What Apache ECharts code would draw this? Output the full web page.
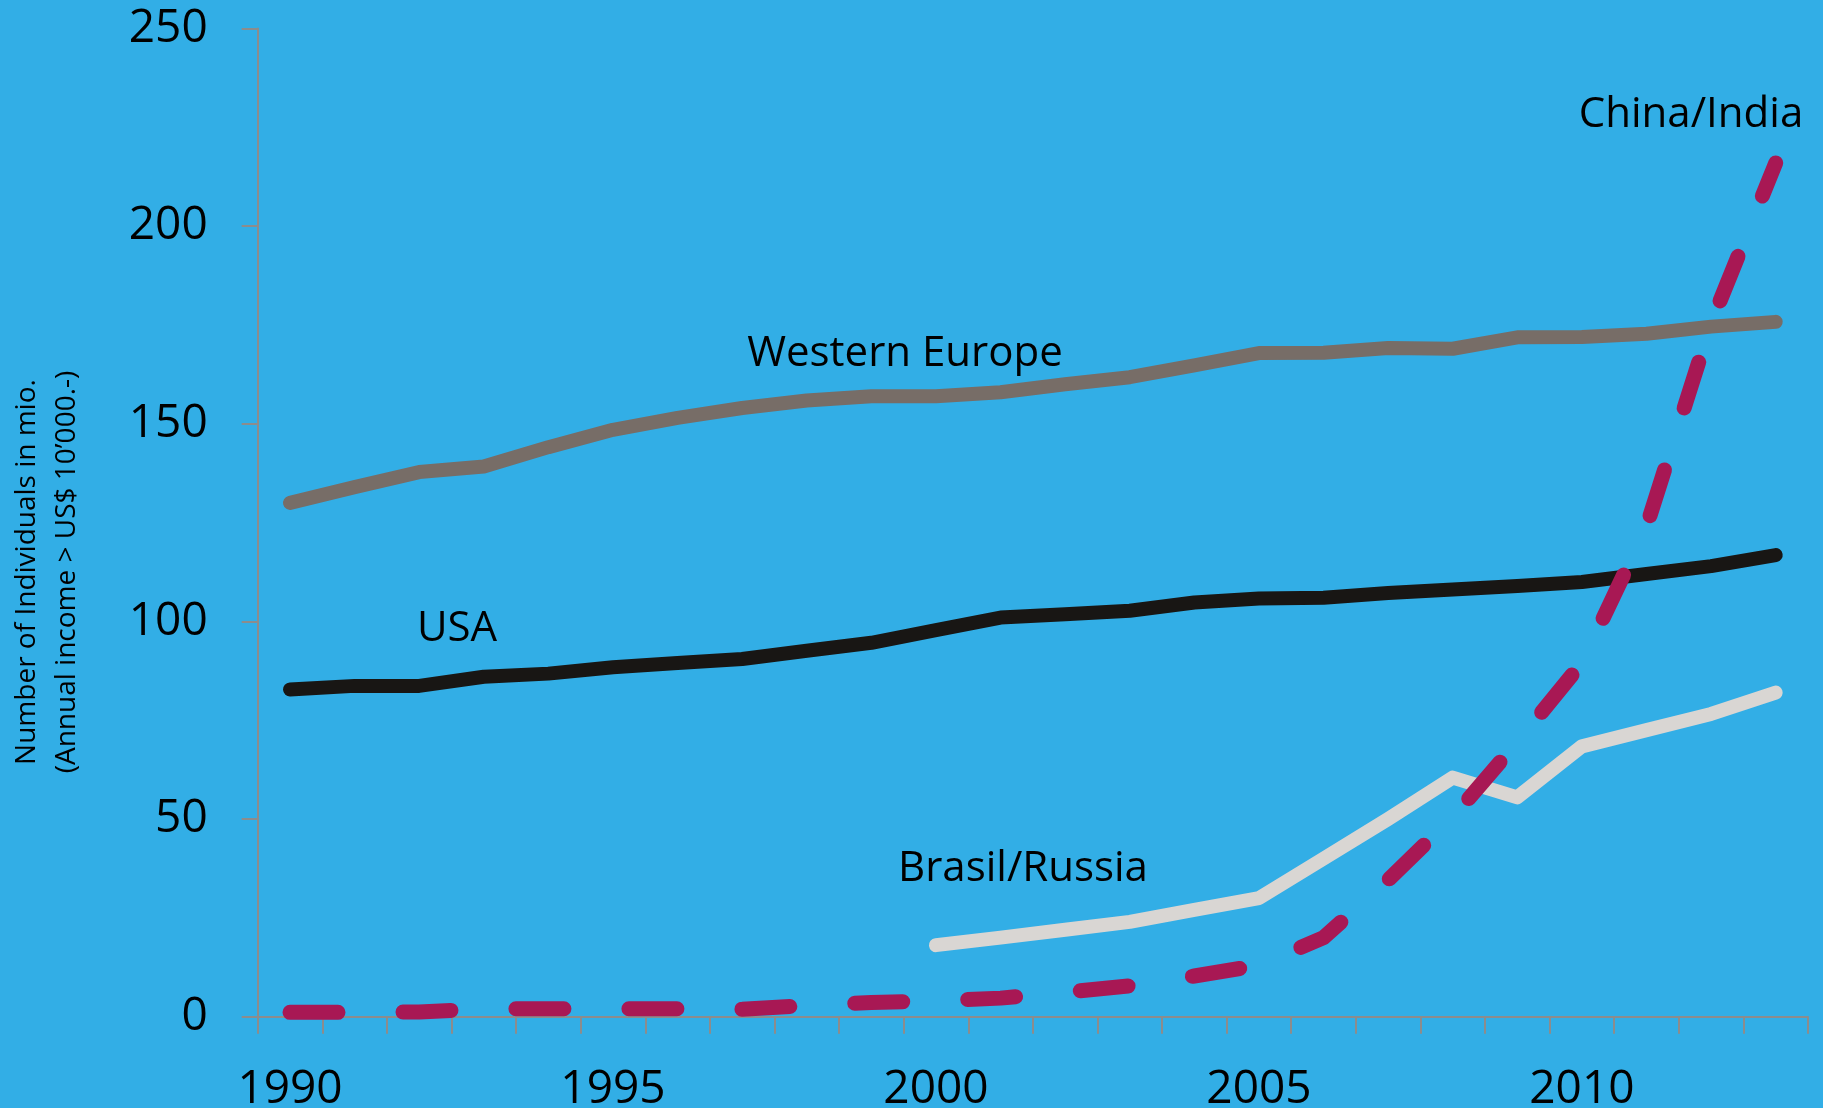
<!DOCTYPE html>
<html>
<head>
<meta charset="utf-8">
<script src="https://cdn.jsdelivr.net/npm/echarts@6/dist/echarts.min.js"></script>
<style>
html,body{margin:0;padding:0;background:#32AEE6;}
#chart{width:1823px;height:1108px;}
</style>
</head>
<body>
<div id="chart"></div>
<script>
var years = ['1990','1991','1992','1993','1994','1995','1996','1997','1998','1999','2000','2001','2002','2003','2004','2005','2006','2007','2008','2009','2010','2011','2012','2013'];
var westernEurope = [130,134,137.8,139.2,144.1,148.5,151.5,154,155.9,157,157,158,160,161.8,164.8,167.9,168,169.2,169,171.9,172,172.8,174.6,175.8];
var usa = [82.8,83.7,83.7,86,86.8,88.4,89.5,90.5,92.6,94.6,97.8,101,101.8,102.7,104.8,105.8,106,107.2,108.1,109,110,112,114,116.8];
var brasilRussia = [null,null,null,null,null,null,null,null,null,null,18.1,20,22,24,27,30,40,50,60.5,55.5,68.4,72.5,76.6,82];
var chinaIndia = [1.1,1.1,1.2,2,2,2,2,1.9,2.8,3.6,4,4.7,6.2,7.8,10.3,13,20,34.6,50.5,69.5,89.5,124,175.5,216];
var yTicks = {min:0, max:250, step:50};
var yAxisTitle = 'Number of Individuals in mio.\n(Annual income > US$ 10\u2019000.-)';
var seriesLabels = ['Western Europe','USA','Brasil/Russia','China/India'];

var chart = echarts.init(document.getElementById('chart'), null, {renderer:'canvas'});
var axisGrey = '#8c8c8c';
var font = 'Open Sans';
function lbl(text, x, y){
  return {type:'text', x:x, y:y, z:100, style:{text:text, fill:'#000', font:'42px "Open Sans"', textAlign:'center', textVerticalAlign:'middle'}};
}
chart.setOption({
  animation:false,
  backgroundColor:'#32AEE6',
  grid:{left:257.7, right:15, top:28.6, bottom:91.3, containLabel:false, outerBoundsMode:'none'},
  xAxis:{
    type:'category', data:years, boundaryGap:true,
    axisLine:{show:true, lineStyle:{color:axisGrey, width:2}},
    axisTick:{show:true, interval:0, length:17, lineStyle:{color:axisGrey, width:2}},
    axisLabel:{interval:4, margin:50, fontSize:46, fontFamily:font, color:'#000'},
    splitLine:{show:false}
  },
  yAxis:{
    type:'value', min:yTicks.min, max:yTicks.max, interval:yTicks.step,
    axisLine:{show:true, lineStyle:{color:axisGrey, width:2}},
    axisTick:{show:true, length:16, lineStyle:{color:axisGrey, width:2}},
    axisLabel:{margin:50, fontSize:46, fontFamily:font, color:'#000'},
    splitLine:{show:false}
  },
  series:[
    {name:seriesLabels[2], type:'line', data:brasilRussia, showSymbol:false, symbol:'none', connectNulls:false,
     lineStyle:{color:'#D9D6D3', width:14, cap:'round', join:'round'}},
    {name:seriesLabels[1], type:'line', data:usa, showSymbol:false, symbol:'none',
     lineStyle:{color:'#181614', width:14, cap:'round', join:'round'}},
    {name:seriesLabels[0], type:'line', data:westernEurope, showSymbol:false, symbol:'none',
     lineStyle:{color:'#776D67', width:14, cap:'round', join:'round'}},
    {name:seriesLabels[3], type:'line', data:chinaIndia, showSymbol:false, symbol:'none',
     lineStyle:{color:'#A81854', width:15, type:[48,65], cap:'round', join:'round'}}
  ],
  graphic:[
    lbl(seriesLabels[0], 905, 354),
    lbl(seriesLabels[1], 457, 629),
    lbl(seriesLabels[2], 1023, 869),
    lbl(seriesLabels[3], 1691, 115),
    {type:'text', x:47, y:572, rotation:Math.PI/2, z:100,
     style:{text:yAxisTitle, fill:'#000', font:'28px "Open Sans"', lineHeight:40, textAlign:'center', textVerticalAlign:'middle'}}
  ]
});
</script>
</body>
</html>
